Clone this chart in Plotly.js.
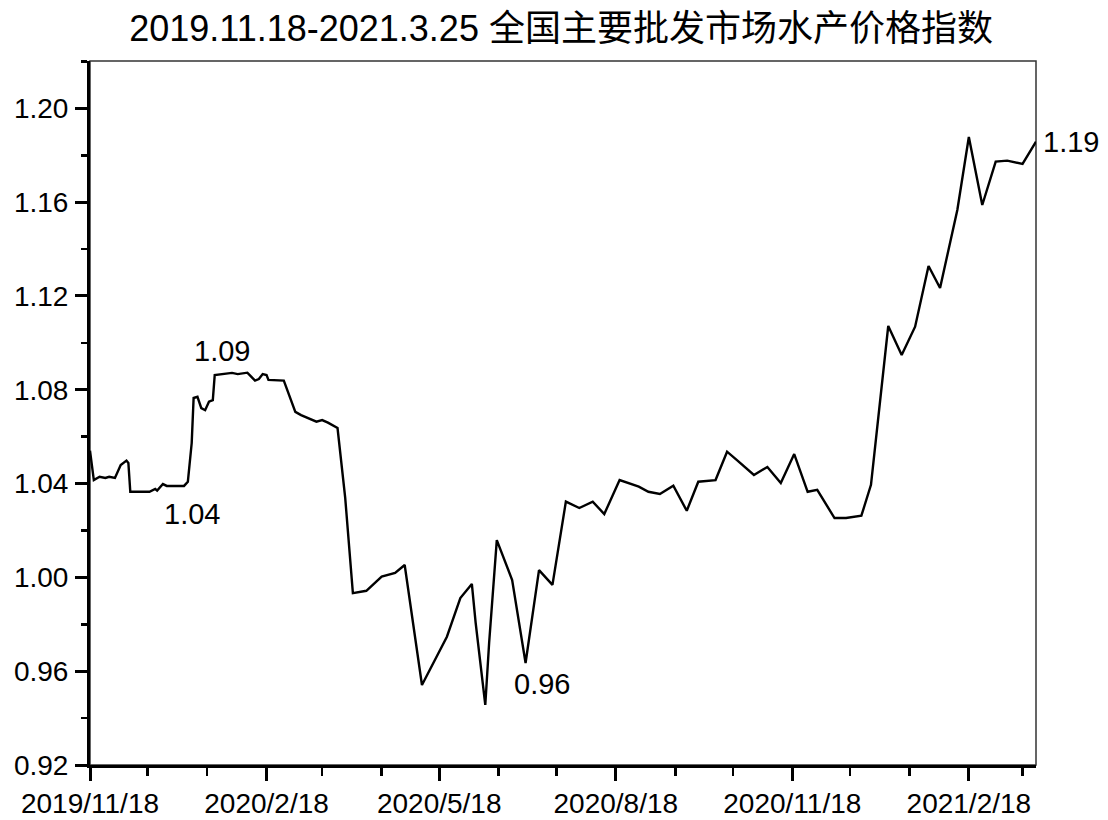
<!DOCTYPE html>
<html>
<head>
<meta charset="utf-8">
<script src="https://cdn.plot.ly/plotly-3.0.1.min.js"></script>
<style>
html,body{margin:0;padding:0;background:#fff;}
#chart{width:1108px;height:820px;}
</style>
</head>
<body>
<div id="chart"></div>
<script>
// Index dates
const dates = [
"2019-11-18","2019-11-20","2019-11-23","2019-11-26","2019-11-28","2019-12-01","2019-12-04","2019-12-07","2019-12-08","2019-12-09",
"2019-12-19","2019-12-22","2019-12-23","2019-12-26","2019-12-28","2020-01-06","2020-01-08","2020-01-10","2020-01-11","2020-01-13",
"2020-01-15","2020-01-17","2020-01-19","2020-01-21","2020-01-22","2020-01-31","2020-02-03","2020-02-08","2020-02-10","2020-02-12",
"2020-02-14","2020-02-16","2020-02-18","2020-02-19","2020-02-27","2020-03-04","2020-03-07","2020-03-15","2020-03-18","2020-03-21",
"2020-03-26","2020-03-30","2020-04-03","2020-04-10","2020-04-18","2020-04-25","2020-04-30","2020-05-03","2020-05-09","2020-05-22",
"2020-05-29","2020-06-04","2020-06-06","2020-06-11","2020-06-13","2020-06-17","2020-06-25","2020-07-02","2020-07-09","2020-07-16",
"2020-07-23","2020-07-30","2020-08-06","2020-08-12","2020-08-20","2020-08-30","2020-09-04","2020-09-10","2020-09-17","2020-09-24",
"2020-09-30","2020-10-09","2020-10-15","2020-10-20","2020-10-29","2020-11-05","2020-11-12","2020-11-19","2020-11-26","2020-12-01",
"2020-12-10","2020-12-16","2020-12-24","2020-12-29","2021-01-01","2021-01-07","2021-01-14","2021-01-21","2021-01-28","2021-02-03",
"2021-02-12","2021-02-18","2021-02-25","2021-03-04","2021-03-10","2021-03-18","2021-03-25"
];
// Price index values
const values = [
1.054,1.0415,1.0429,1.0424,1.0429,1.0424,1.0479,1.0498,1.0488,1.0365,
1.0365,1.0377,1.0370,1.0398,1.0390,1.0390,1.0408,1.0573,1.0765,1.0770,
1.0722,1.0713,1.0749,1.0756,1.0863,1.0872,1.0867,1.0873,1.0856,1.0839,
1.0846,1.0867,1.0863,1.0842,1.0839,1.0706,1.0692,1.0664,1.0671,1.0660,
1.0637,1.0339,0.9933,0.9943,1.0003,1.0019,1.0053,0.9875,0.9541,0.9747,
0.9912,0.9972,0.9805,0.9456,0.9720,1.0159,0.9989,0.9635,1.0031,0.9968,
1.0323,1.0296,1.0323,1.0270,1.0415,1.0387,1.0365,1.0356,1.0391,1.0284,
1.0408,1.0415,1.0536,1.0501,1.0437,1.0471,1.0402,1.0526,1.0365,1.0373,
1.0253,1.0253,1.0263,1.0395,1.0616,1.1072,1.0948,1.1069,1.1328,1.1234,
1.1567,1.1878,1.1588,1.1773,1.1777,1.1763,1.1858
];
// Callout labels: text and the index of the data point they describe
const calloutTexts = ["1.09","1.04","0.96","1.19"];
const calloutIdx = [25, 15, 57, 96];

const titleText = "2019.11.18-2021.3.25 全国主要批发市场水产价格指数";
const xTickFirst = "2019-11-18";
const xRange = ["2019-11-18","2021-03-25"];
const yRange = [0.92, 1.2202];

const FONT = "Liberation Sans, Arial, Noto Sans CJK SC, sans-serif";

const trace = {
  x: dates, y: values, type: "scatter", mode: "lines",
  line: {color: "#000", width: 2.4}, hoverinfo: "x+y"
};

const shifts = [[-10, 22, "center"], [8, -28, "center"], [16, -21, "center"], [5, 0, "left"]];
const annotations = calloutTexts.map((t, k) => ({
  x: dates[calloutIdx[k]], y: values[calloutIdx[k]], xref: "x", yref: "y",
  text: t, showarrow: false, xanchor: shifts[k][2], yanchor: "middle",
  xshift: shifts[k][0], yshift: shifts[k][1],
  font: {family: FONT, size: 29, color: "#000"}
}));

const layout = {
  width: 1108, height: 820,
  margin: {l: 90, r: 72, t: 61, b: 55},
  paper_bgcolor: "#fff", plot_bgcolor: "#fff",
  showlegend: false,
  title: {
    text: titleText, x: 0.498, xref: "paper", xanchor: "center",
    y: 1 - 28/820, yref: "container", yanchor: "middle",
    font: {family: FONT, size: 36, color: "#000"}
  },
  xaxis: {
    type: "date", range: xRange,
    tick0: xTickFirst, dtick: "M3", tickformat: "%Y/%-m/%-d",
    ticks: "outside", ticklen: 13, tickwidth: 3, tickcolor: "#000",
    minor: {dtick: "M1", tick0: xTickFirst, ticks: "outside", ticklen: 8, tickwidth: 2.5, tickcolor: "#000", showgrid: false},
    showgrid: false, zeroline: false,
    showline: true, linewidth: 3, linecolor: "#000",
    tickfont: {family: FONT, size: 28, color: "#000"},
    ticklabelstandoff: -2,
    fixedrange: true
  },
  yaxis: {
    range: yRange, tick0: 0.92, dtick: 0.04, tickformat: ".2f",
    ticks: "outside", ticklen: 12, tickwidth: 3, tickcolor: "#000",
    minor: {dtick: 0.02, tick0: 0.92, ticks: "outside", ticklen: 6, tickwidth: 2.5, tickcolor: "#000", showgrid: false},
    showgrid: false, zeroline: false,
    showline: true, linewidth: 3, linecolor: "#000",
    tickfont: {family: FONT, size: 28, color: "#000"},
    ticklabelstandoff: 1,
    fixedrange: true
  },
  shapes: [{
    type: "rect", xref: "paper", yref: "paper", x0: 0, x1: 1, y0: 0, y1: 1,
    line: {color: "#333", width: 1.5}, layer: "below"
  }],
  annotations: annotations
};

Plotly.newPlot("chart", [trace], layout, {displayModeBar: false, staticPlot: true});
</script>
</body>
</html>
